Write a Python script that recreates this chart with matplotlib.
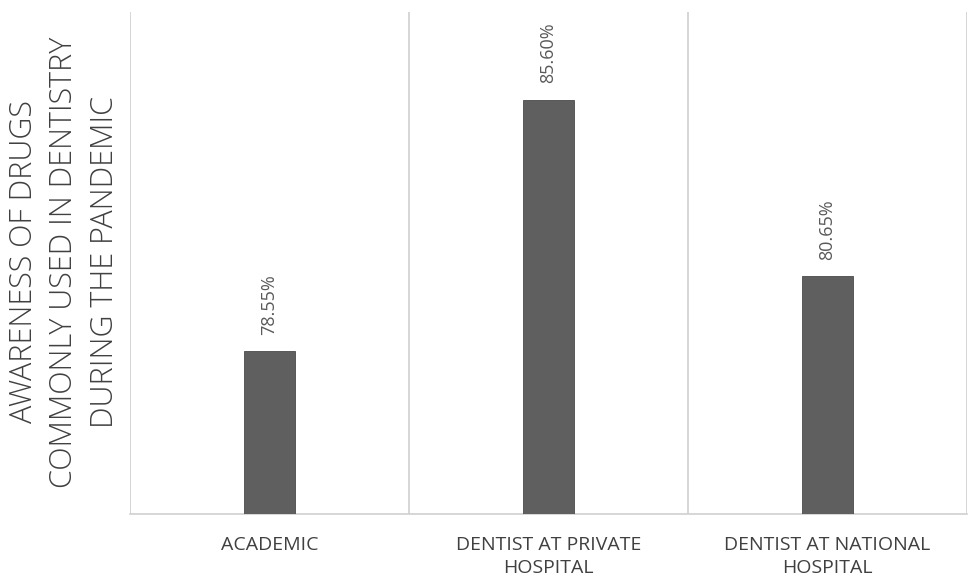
import matplotlib
matplotlib.use("Agg")
import matplotlib.pyplot as plt
import numpy as np

categories = ["ACADEMIC", "DENTIST AT PRIVATE\nHOSPITAL", "DENTIST AT NATIONAL\nHOSPITAL"]
values = [78.55, 85.60, 80.65]
value_labels = ["78.55%", "85.60%", "80.65%"]
ylabel = "AWARENESS OF DRUGS\nCOMMONLY USED IN DENTISTRY\nDURING THE PANDEMIC"

plt.rcParams['font.family'] = ['Open Sans', 'DejaVu Sans']

fig = plt.figure(figsize=(9.76, 5.87), dpi=100)
ax = fig.add_axes([130/976, 1-514/587, (967-130)/976, (514-12)/587])

x = np.arange(len(categories))
ax.bar(x, values, width=0.18, color="#5f5f5f", edgecolor="#4a4a4a", linewidth=0.6, zorder=3)
ax.set_ylim(74, 88.05)
ax.set_xlim(-0.5, len(categories)-0.5)

for xi, v, lab in zip(x, values, value_labels):
    ax.annotate(lab, (xi, v), xytext=(0, 12), textcoords="offset points",
                rotation=90, ha="center", va="bottom", fontsize=13, color="#595959")

for b in np.arange(-0.5, len(categories), 1.0):
    ax.axvline(b, color="#d0d0d0", linewidth=1.2, zorder=1)

for s in ["top", "right", "left"]:
    ax.spines[s].set_visible(False)
ax.spines["bottom"].set_color("#d0d0d0")
ax.spines["bottom"].set_linewidth(1.2)
ax.set_yticks([])
ax.set_xticks(x)
ax.set_xticklabels(categories, fontsize=14, color="#404040", linespacing=1.35)
ax.tick_params(axis="x", length=0, pad=16)

fig.text(0.008, 1 - 262/587, ylabel, rotation=90, ha="left", va="center",
         fontsize=22, color="#404040", multialignment="center", linespacing=1.35,
         fontweight="light")

fig.savefig("out.png", dpi=100, facecolor="white")
